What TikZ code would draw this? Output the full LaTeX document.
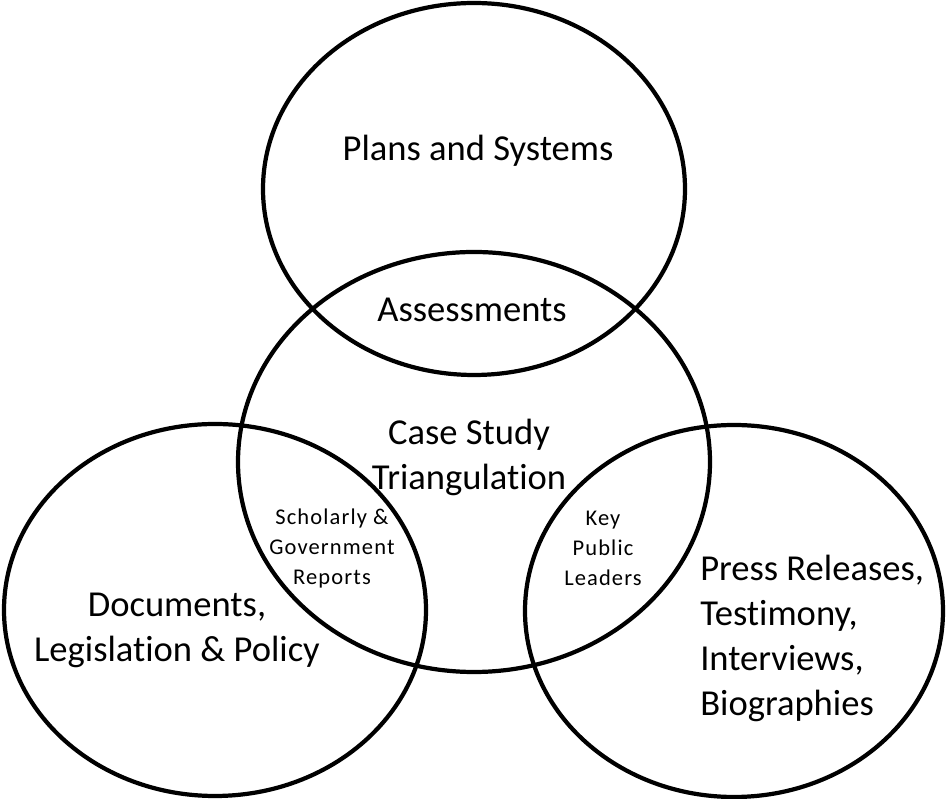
\documentclass[tikz,border=0pt]{standalone}
\usepackage{fontspec}
\setmainfont{Carlito}[Ligatures=NoCommon]
\usepackage{tikz}
\usetikzlibrary{positioning}
\tikzset{
  ring/.style={line width=3pt, color=black},
  bigtext/.style={font=\fontsize{26}{32}\selectfont, align=center, inner sep=0pt},
  smalltext/.style={font=\fontsize{16}{21.3}\selectfont\addfontfeature{LetterSpace=5}, align=center, inner sep=0pt}
}

\begin{document}
\begin{tikzpicture}
\useasboundingbox (0,0) rectangle (23.775,19.975);
\draw[ring] (11.85,15.25) ellipse [x radius=5.275, y radius=4.65]; % top
\draw[ring] (11.85,8.425) ellipse [x radius=5.9, y radius=5.25]; % middle
\draw[ring] (5.375,4.725) ellipse [x radius=5.275, y radius=4.65]; % left
\draw[ring] (18.35,4.7) ellipse [x radius=5.225, y radius=4.65]; % right
\node[bigtext] (plans) at (11.95,16.2) {Plans and Systems};
\node[bigtext] (assess) at (11.8,12.22) {Assessments};
\node[bigtext] (casestudy) at (11.725,8.55) {Case Study\\Triangulation};
\node[smalltext] (scholarly) at (8.3,6.26) {Scholarly \&\\Government\\Reports};
\node[smalltext] (leaders) at (15.075,6.26) {Key\\Public\\Leaders};
\node[bigtext] (documents) at (4.425,4.21) {Documents,\\Legislation \& Policy};
\node[bigtext, align=left, anchor=west] (press) at (17.5,4.01) {Press Releases,\\Testimony,\\Interviews,\\Biographies};
\end{tikzpicture}
\end{document}
